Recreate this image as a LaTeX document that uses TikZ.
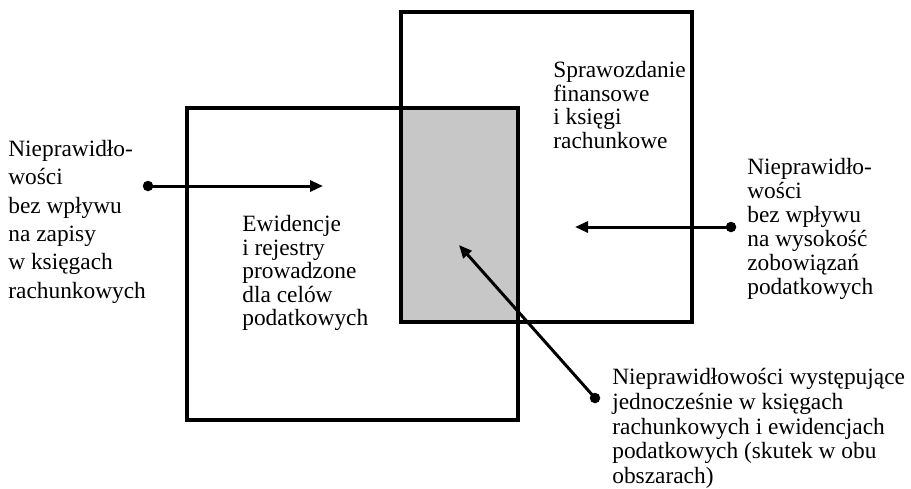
\documentclass[tikz,border=0pt]{standalone}
\usepackage{fontspec}
\setmainfont{Liberation Serif}
\usetikzlibrary{arrows.meta}

\begin{document}
\begin{tikzpicture}[x=0.02cm,y=-0.02cm,->,>={Triangle[length=0.26cm,width=0.22cm]},
  every node/.style={font=\fontsize{13.3}{13.4}\selectfont},
  txt/.style={anchor=north west, inner sep=0pt, align=left},
  dotnode/.style={circle, fill=black, inner sep=0pt, minimum size=0.21cm}]

  \useasboundingbox (0,0) rectangle (911,488);

  % common part of both areas
  \node[rectangle,
        fill = black!22,
        minimum width = 2.35cm,
        minimum height = 4.28cm
        ] (both) at (459.25,215) {};

  \node[rectangle,
        draw,
        line width = 2.3pt,
        minimum width = 6.62cm,
        minimum height = 6.24cm
        ] (ewid) at (352.5,264) {};

  \node[rectangle,
        draw,
        line width = 2.3pt,
        minimum width = 5.83cm,
        minimum height = 6.2cm
        ] (spraw) at (546.25,167) {};

  \node[txt] (ewidlab) at (242,215) {Ewidencje\\i rejestry\\prowadzone\\dla celów\\podatkowych};
  \node[txt] (sprawlab) at (553,61) {Sprawozdanie\\finansowe\\i księgi\\rachunkowe};

  \node[txt, font=\fontsize{13.3}{16.1}\selectfont] (lewy) at (8,140) {Nieprawidło-\\wości\\bez wpływu\\na zapisy\\w księgach\\rachunkowych};
  \node[txt, font=\fontsize{13.3}{13.6}\selectfont] (prawy) at (747,158) {Nieprawidło-\\wości\\bez wpływu\\na wysokość\\zobowiązań\\podatkowych};
  \node[txt, font=\fontsize{13.3}{14.1}\selectfont] (dolny) at (612,368) {Nieprawidłowości występujące\\jednocześnie w księgach\\rachunkowych i ewidencjach\\podatkowych (skutek w obu\\obszarach)};

  \node[dotnode] (dotl) at (148,186) {};
  \node[dotnode] (dotr) at (731,227) {};
  \node[dotnode] (dotd) at (595,398) {};

  \coordinate (tipl) at (323,186);
  \coordinate (tipr) at (575,227);
  \coordinate (tipd) at (459,245);

  \path[line width=1.7pt]
  (dotl.center) edge [] (tipl)
  (dotr.center) edge [] (tipr)
  (dotd.center) edge [] (tipd);

\end{tikzpicture}
\end{document}
